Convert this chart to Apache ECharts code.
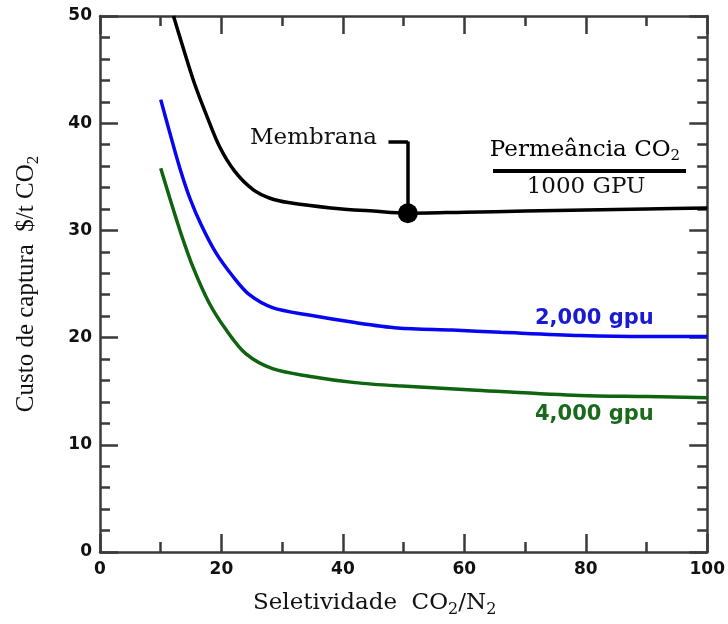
<!DOCTYPE html>
<html>
<head>
<meta charset="utf-8">
<script src="https://cdn.jsdelivr.net/npm/echarts@6/dist/echarts.min.js"></script>
<style>
  html, body { margin: 0; padding: 0; background: #fff; }
  #chart { width: 728px; height: 624px; }
</style>
</head>
<body>
<div id="chart"></div>
<script>
// Seletividade CO2/N2 (x) and custo de captura $/t CO2 (y)
const sel1000 = [12.1, 13.6, 15.5, 17.5, 19.7, 22.2, 25.2, 28, 31, 38, 45, 50.7, 60, 70, 80, 90, 100];
const cost1000 = [50.0, 47.2, 43.8, 40.8, 37.8, 35.5, 33.8, 33.0, 32.6, 32.1, 31.8, 31.6, 31.7, 31.8, 31.9, 32.0, 32.1];

const sel2000 = [10, 11.5, 13.1, 14.8, 16.6, 19.1, 21.9, 24.6, 28.4, 34.4, 42, 49, 58, 66, 79, 90, 100];
const cost2000 = [42.2, 39.1, 35.9, 33.0, 30.6, 27.9, 25.7, 24.0, 22.8, 22.1, 21.4, 20.9, 20.7, 20.5, 20.2, 20.1, 20.1];

const sel4000 = [10, 11.5, 13.4, 15.3, 18, 20.8, 24, 28.4, 34.4, 42, 49, 62, 79, 90, 100];
const cost4000 = [35.8, 33.0, 29.6, 26.6, 23.2, 20.7, 18.5, 17.1, 16.4, 15.8, 15.5, 15.1, 14.6, 14.5, 14.4];

// membrane point marked on the 1000 GPU curve
const membranaPoint = [50.7, 31.6];
const membranaBracketY = 38.3;
const membranaBracketX = 47.5;

const pairs = (xs, ys) => xs.map((x, i) => [x, ys[i]]);

const axisColor = '#3a3a3a';
const serif = 'DejaVu Serif';
const sansBold = 'DejaVu Sans';

const frameAxis = {
    min: 0,
    axisLine: { show: true, onZero: false, lineStyle: { color: axisColor, width: 2.5 } },
    axisTick: { show: true, inside: true, length: 18, lineStyle: { color: axisColor, width: 2.5 } },
    minorTick: { show: true, length: 10, lineStyle: { color: axisColor, width: 2.5 } },
    splitLine: { show: false },
    minorSplitLine: { show: false }
};

const tickLabel = {
    fontFamily: sansBold,
    fontWeight: 'bold',
    fontSize: 17,
    color: '#111'
};

const subRich = (size, sub, shift) => ({
    a: { fontFamily: serif, fontSize: size, color: '#111' },
    s: { fontFamily: serif, fontSize: sub, color: '#111', padding: [shift, 0, 0, 0] }
});

const chart = echarts.init(document.getElementById('chart'));

chart.setOption({
    animation: false,
    backgroundColor: '#fff',
    grid: { left: 100, top: 16, right: 18, bottom: 72, containLabel: false },
    xAxis: [
        Object.assign({}, frameAxis, {
            type: 'value', position: 'bottom', max: 100, interval: 20,
            minorTick: Object.assign({}, frameAxis.minorTick, { splitNumber: 2 }),
            axisLabel: Object.assign({}, tickLabel, { margin: 9 }),
            name: '{a|Seletividade  CO}{s|2}{a|/N}{s|2}',
            nameLocation: 'middle',
            nameGap: 36,
            nameTextStyle: { rich: subRich(23, 16, 14), padding: [0, 58, 0, 0] }
        }),
        Object.assign({}, frameAxis, {
            type: 'value', position: 'top', max: 100, interval: 20,
            minorTick: Object.assign({}, frameAxis.minorTick, { splitNumber: 2 }),
            axisLabel: { show: false }
        })
    ],
    yAxis: [
        Object.assign({}, frameAxis, {
            type: 'value', position: 'left', max: 50, interval: 10,
            minorTick: Object.assign({}, frameAxis.minorTick, { splitNumber: 5 }),
            axisLabel: Object.assign({}, tickLabel, { margin: 8 }),
            name: '{a|Custo de captura  $/t CO}{s|2}',
            nameLocation: 'middle',
            nameGap: 58,
            nameRotate: 90,
            nameTextStyle: {
                rich: {
                    a: { fontFamily: 'Liberation Serif', fontSize: 25, color: '#111' },
                    s: { fontFamily: 'Liberation Serif', fontSize: 17, color: '#111', padding: [14, 0, 0, 0] }
                }
            }
        }),
        Object.assign({}, frameAxis, {
            type: 'value', position: 'right', max: 50, interval: 10,
            minorTick: Object.assign({}, frameAxis.minorTick, { splitNumber: 5 }),
            axisLabel: { show: false }
        })
    ],
    series: [
        {
            name: '1000 GPU',
            type: 'line',
            smooth: 0.3,
            showSymbol: false,
            data: pairs(sel1000, cost1000),
            lineStyle: { color: '#000', width: 3.5 },
            itemStyle: { color: '#000' },
            markLine: {
                silent: true,
                symbol: ['none', 'none'],
                label: { show: false },
                lineStyle: { color: '#000', width: 3.5, type: 'solid' },
                data: [
                    [{ coord: [membranaBracketX, membranaBracketY] }, { coord: [membranaPoint[0], membranaBracketY] }],
                    [{ coord: [membranaPoint[0], membranaBracketY] }, { coord: membranaPoint }]
                ]
            },
            markPoint: {
                symbol: 'circle',
                symbolSize: 20,
                label: { show: false },
                itemStyle: { color: '#000' },
                data: [{ coord: membranaPoint }]
            }
        },
        {
            name: '2,000 gpu',
            type: 'line',
            smooth: 0.3,
            showSymbol: false,
            data: pairs(sel2000, cost2000),
            lineStyle: { color: '#0606f0', width: 3.5 },
            itemStyle: { color: '#0606f0' }
        },
        {
            name: '4,000 gpu',
            type: 'line',
            smooth: 0.3,
            showSymbol: false,
            data: pairs(sel4000, cost4000),
            lineStyle: { color: '#0f640f', width: 3.5 },
            itemStyle: { color: '#0f640f' }
        }
    ],
    graphic: [
        {
            type: 'text', x: 250, y: 138,
            style: { text: 'Membrana', font: '23px "DejaVu Serif"', fill: '#111', align: 'left', verticalAlign: 'middle' }
        },
        {
            type: 'text', x: 585, y: 150,
            style: {
                text: '{a|Permeância CO}{s|2}',
                rich: subRich(23, 15, 12),
                align: 'center', verticalAlign: 'middle'
            }
        },
        {
            type: 'line',
            shape: { x1: 493, y1: 171, x2: 686, y2: 171 },
            style: { stroke: '#000', lineWidth: 4 }
        },
        {
            type: 'text', x: 586, y: 187,
            style: { text: '1000 GPU', font: '23px "DejaVu Serif"', fill: '#111', align: 'center', verticalAlign: 'middle' }
        },
        {
            type: 'text', x: 535, y: 319,
            style: { text: '2,000 gpu', font: 'bold 21px "DejaVu Sans"', fill: '#1a1ad2', align: 'left', verticalAlign: 'middle' }
        },
        {
            type: 'text', x: 535, y: 415,
            style: { text: '4,000 gpu', font: 'bold 21px "DejaVu Sans"', fill: '#1b6a1b', align: 'left', verticalAlign: 'middle' }
        }
    ]
});
</script>
</body>
</html>
